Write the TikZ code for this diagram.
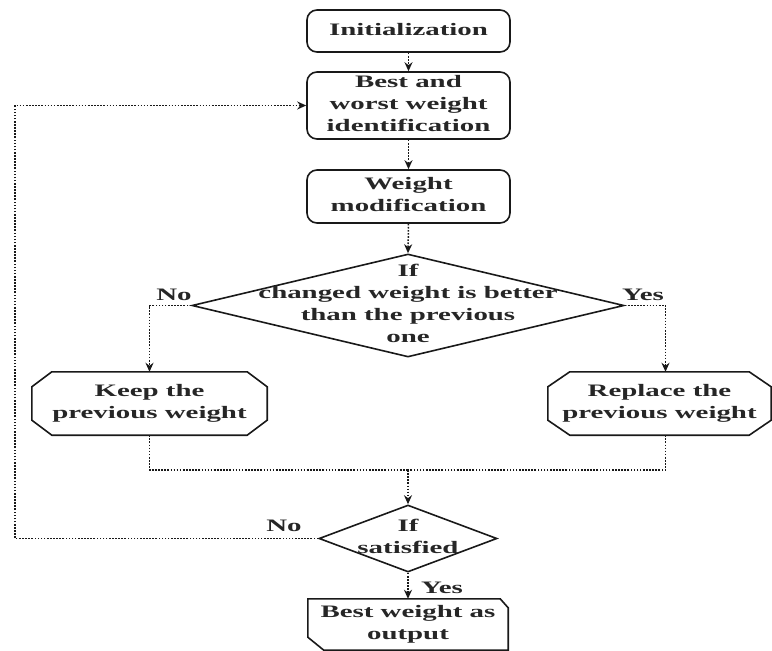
\documentclass[tikz,border=0pt]{standalone}
\usepackage{fontspec}
\setmainfont{Liberation Serif}
\usepackage{graphicx}
\usetikzlibrary{shapes.geometric,arrows.meta}
\newcommand\tx[1]{\scalebox{1.65}[1]{\begin{tabular}{@{}c@{}}#1\end{tabular}}}
\newcommand\myocta[3]{%
  \draw[bx] ([xshift=#2]#1.north west) -- ([xshift=-#2]#1.north east)
    -- ([yshift=-#3]#1.north east) -- ([yshift=#3]#1.south east)
    -- ([xshift=-#2]#1.south east) -- ([xshift=#2]#1.south west)
    -- ([yshift=#3]#1.south west) -- ([yshift=-#3]#1.north west) -- cycle;}
\begin{document}
\begin{tikzpicture}[x=1pt,y=-1pt,
  font=\fontsize{17.5}{22}\selectfont\bfseries,
  every node/.style={text=black!85},
  bx/.style={draw=black!90, line width=1.6pt},
  rbox/.style={bx, rounded corners=10pt, minimum width=203pt, inner sep=0pt},
  plain/.style={inner sep=0pt},
  dia/.style={bx, diamond, inner sep=0pt},
  lbl/.style={inner sep=0pt},
  ln/.style={draw=black!90, line width=1.5pt, dash pattern=on 1.6pt off 1.5pt},
  con/.style={ln, -{Stealth[length=9pt,width=8pt]}}]
\useasboundingbox (0,0) rectangle (772,651);

\node[rbox, minimum height=42pt] (init) at (408.5,31) {\tx{Initialization}};
\node[rbox, minimum height=67pt] (best) at (408.5,105.5) {\tx{Best and\\worst weight\\identification}};
\node[rbox, minimum height=53pt] (wmod) at (408.5,196.5) {\tx{Weight\\modification}};
\node[dia, minimum width=432pt, minimum height=103pt] (d1) at (408,305.5) {};
\node[plain] (d1t) at (408,305.5) {\tx{If\\changed weight is better\\than the previous\\one}};
\node[plain, minimum width=235pt, minimum height=63pt] (keep) at (149.5,403.5) {\tx{Keep the\\previous weight}};
\node[plain, minimum width=223pt, minimum height=63pt] (repl) at (659.5,403.5) {\tx{Replace the\\previous weight}};
\node[dia, minimum width=178pt, minimum height=67pt] (d2) at (408,538.5) {};
\node[plain] (d2t) at (408,538) {\tx{If\\satisfied}};
\node[plain, minimum width=200pt, minimum height=51pt] (out) at (408,624.5) {\tx{Best weight as\\output}};

\myocta{keep}{20pt}{15pt}
\myocta{repl}{22pt}{15pt}
\draw[bx] (out.north west) -- ([xshift=-8pt]out.north east) -- ([yshift=-9pt]out.north east)
  -- (out.south east) -- ([xshift=16pt]out.south west) -- ([yshift=13pt]out.south west) -- cycle;

\coordinate (m) at (408,470);
\coordinate (lp) at (15,538.5);

\draw[con] (init.south) -- (best.north);
\draw[con] (best.south) -- (wmod.north);
\draw[con] (wmod.south) -- (d1.north);
\draw[con] (d1.west) -| (keep.north);
\draw[con] (d1.east) -| ([xshift=6pt]repl.north);
\draw[ln] (keep.south) |- (m);
\draw[ln] ([xshift=6pt]repl.south) |- (m);
\draw[con] (m) -- (d2.north);
\draw[con] (d2.west) -- (lp) |- (best.west);
\draw[con] (d2.south) -- (out.north);

\node[lbl] (no1) at (174,296) {\tx{No}};
\node[lbl] (yes1) at (643,296) {\tx{Yes}};
\node[lbl] (no2) at (284,527) {\tx{No}};
\node[lbl] (yes2) at (442,589) {\tx{Yes}};
\end{tikzpicture}
\end{document}
